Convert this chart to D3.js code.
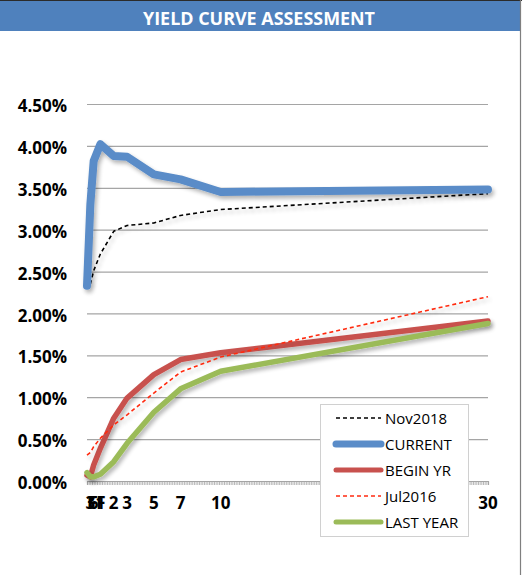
<!DOCTYPE html>
<html>
<head>
<meta charset="utf-8">
<script src="https://cdn.jsdelivr.net/npm/d3@7"></script>
<style>
  html, body { margin: 0; padding: 0; background: #fff; }
  svg { display: block; }
</style>
</head>
<body>
<svg id="chart" width="522" height="575"></svg>
<script>
// Treasury tenors in years (FF = fed funds, 3 / 6 = months)
const tenors = [0, 0.25, 0.5, 1, 2, 3, 5, 7, 10, 30];
const tenorLabels = ["FF", "3", "6", "1", "2", "3", "5", "7", "10", "30"];

// Yields in percent, one value per tenor (null = not available)
const nov2018  = [null, 2.35, 2.51, 2.71, 2.98, 3.05, 3.08, 3.17, 3.24, 3.43];
const current  = [2.33, 3.30, 3.82, 4.02, 3.88, 3.87, 3.66, 3.60, 3.45, 3.48];
const beginYr  = [0.07, 0.05, 0.19, 0.39, 0.75, 0.99, 1.27, 1.45, 1.53, 1.91];
const jul2016  = [0.31, 0.34, 0.41, 0.51, 0.67, 0.79, 1.05, 1.30, 1.48, 2.20];
const lastYear = [0.10, 0.05, 0.05, 0.08, 0.23, 0.45, 0.82, 1.10, 1.31, 1.88];

const yTicks = [0, 0.5, 1, 1.5, 2, 2.5, 3, 3.5, 4, 4.5];

const seriesNames = ["Nov2018", "CURRENT", "BEGIN YR", "Jul2016", "LAST YEAR"];
const seriesValues = [nov2018, current, beginYr, jul2016, lastYear];
const seriesStyles = [
  { color: "#000000", width: 1.6, dash: "4,3", legendWidth: 1.6 },
  { color: "#5A8CC8", width: 8,   dash: null,  legendWidth: 7 },
  { color: "#C8514E", width: 5.5, dash: null,  legendWidth: 5 },
  { color: "#FF2A10", width: 1.6, dash: "4,3", legendWidth: 1.6 },
  { color: "#9BBB59", width: 5.5, dash: null,  legendWidth: 5 }
];

const svg = d3.select("#chart");
const font = "'Open Sans', 'DejaVu Sans', sans-serif";

// drop shadow used under each curve
const defs = svg.append("defs");
const f = defs.append("filter").attr("id", "shadow")
  .attr("x", "-5%").attr("y", "-20%").attr("width", "110%").attr("height", "140%");
f.append("feGaussianBlur").attr("in", "SourceAlpha").attr("stdDeviation", 2).attr("result", "b");
f.append("feOffset").attr("in", "b").attr("dx", 1.5).attr("dy", 3).attr("result", "o");
f.append("feComponentTransfer").attr("in", "o").attr("result", "s")
  .append("feFuncA").attr("type", "linear").attr("slope", 0.3);
const m = f.append("feMerge");
m.append("feMergeNode").attr("in", "s");
m.append("feMergeNode").attr("in", "SourceGraphic");

// frame: top rule, right rule, title bar
svg.append("rect").attr("x", 0).attr("y", 0).attr("width", 520).attr("height", 31).attr("fill", "#4F81BD");
svg.append("line").attr("x1", 0).attr("x2", 522).attr("y1", 0.5).attr("y2", 0.5).attr("stroke", "#2b2b2b").attr("stroke-width", 1);
svg.append("line").attr("x1", 520.5).attr("x2", 520.5).attr("y1", 0).attr("y2", 575).attr("stroke", "#7f7f7f").attr("stroke-width", 1.2);

svg.append("text")
  .attr("x", 259).attr("y", 25)
  .attr("text-anchor", "middle")
  .attr("font-family", font).attr("font-weight", 700).attr("font-size", 18)
  .attr("fill", "#ffffff")
  .attr("textLength", 232).attr("lengthAdjust", "spacingAndGlyphs")
  .text("YIELD CURVE ASSESSMENT");

// scales
const x = d3.scaleLinear().domain([0, 30]).range([87, 488]);
const y = d3.scaleLinear().domain([0, 4.5]).range([481, 104]);

// horizontal gridlines + y labels
const yAxis = svg.append("g")
  .attr("transform", `translate(${x.range()[0]},0)`)
  .call(d3.axisLeft(y).tickValues(yTicks)
    .tickSize(-(x.range()[1] - x.range()[0]))
    .tickPadding(20)
    .tickFormat(d => d3.format(".2f")(d) + "%"));
yAxis.select(".domain").remove();
yAxis.selectAll(".tick line").attr("stroke", "#A5A5A5").attr("stroke-width", 1.2);
yAxis.selectAll(".tick text")
  .attr("font-family", font).attr("font-weight", 700).attr("font-size", 17)
  .attr("fill", "#000").attr("dy", "0.45em");

// x axis: dense minor ticks
const minorTicks = d3.range(0, 30 + 1e-9, 1 / 8);
const xAxis = svg.append("g")
  .attr("transform", `translate(0,${y(0)})`)
  .call(d3.axisBottom(x).tickValues(minorTicks).tickSize(4).tickFormat(""));
xAxis.select(".domain").attr("stroke", "#A5A5A5").attr("stroke-width", 1.2);
xAxis.selectAll(".tick line").attr("stroke", "#A5A5A5").attr("stroke-width", 0.8);

// tenor labels
svg.append("g").selectAll("text")
  .data(tenors)
  .join("text")
  .attr("x", d => x(d))
  .attr("y", 509)
  .attr("text-anchor", (d, i) => i === 0 ? "start" : "middle")
  .attr("font-family", font).attr("font-weight", 700).attr("font-size", 17)
  .attr("fill", "#000")
  .text((d, i) => tenorLabels[i]);

// curves
const line = d3.line()
  .defined(d => d.v != null)
  .x(d => x(d.t))
  .y(d => y(d.v));

const curves = svg.append("g");
seriesValues.forEach((vals, i) => {
  const st = seriesStyles[i];
  const pts = tenors.map((t, k) => ({ t, v: vals[k] }));
  curves.append("path")
    .attr("d", line(pts))
    .attr("fill", "none")
    .attr("stroke", st.color)
    .attr("stroke-width", st.width)
    .attr("stroke-dasharray", st.dash)
    .attr("stroke-linejoin", "round")
    .attr("stroke-linecap", st.dash ? "butt" : "round")
    .attr("filter", "url(#shadow)");
});

// legend
const lg = svg.append("g");
lg.append("rect")
  .attr("x", 320.5).attr("y", 404.5).attr("width", 148).attr("height", 132)
  .attr("fill", "#ffffff").attr("stroke", "#D0D0D0").attr("stroke-width", 1);
seriesNames.forEach((name, i) => {
  const st = seriesStyles[i];
  const cy = 418 + i * 26;
  lg.append("line")
    .attr("x1", 336).attr("x2", 381).attr("y1", cy).attr("y2", cy)
    .attr("stroke", st.color)
    .attr("stroke-width", st.legendWidth)
    .attr("stroke-dasharray", st.dash)
    .attr("stroke-linecap", st.dash ? "butt" : "round");
  lg.append("text")
    .attr("x", 385).attr("y", cy + 5.5)
    .attr("font-family", font).attr("font-size", 15)
    .attr("fill", "#000")
    .text(name);
});
</script>
</body>
</html>
